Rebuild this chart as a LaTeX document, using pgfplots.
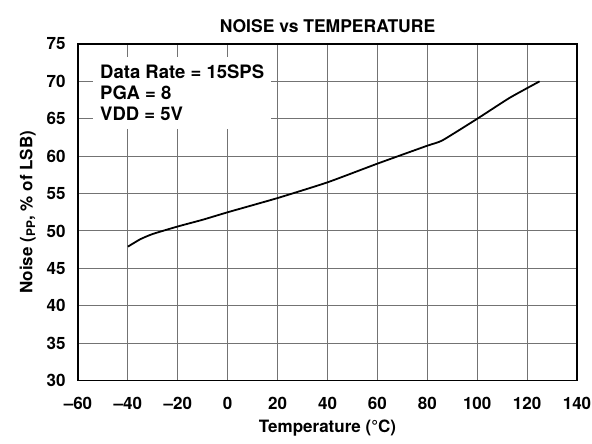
\documentclass[border=0pt]{standalone}
\usepackage{fontspec}
\setmainfont{TeX Gyre Heros}
\usepackage{pgfplots}
\pgfplotsset{compat=1.18}
\begin{document}
\begin{tikzpicture}
\begin{axis}[
  scale only axis,
  width=499bp, height=336.5bp,
  xmin=-60, xmax=140, ymin=30, ymax=75,
  xtick={-60,-40,...,140},
  ytick={30,35,...,75},
  xticklabels={\textendash60,\textendash40,\textendash20,0,20,40,60,80,100,120,140},
  /pgf/number format/assume math mode=true,
  major tick length=0pt,
  grid=major,
  major grid style={line width=1pt, color=black!55},
  axis line style={line width=1.8pt, black},
  tick label style={font=\fontsize{17bp}{20bp}\selectfont\bfseries},
  yticklabel style={xshift=-9bp},
  xticklabel style={yshift=-13bp},
  label style={font=\fontsize{17bp}{20bp}\selectfont\bfseries},
  xlabel={Temperature (°C)},
  ylabel={Noise (\textsubscript{PP}, \% of LSB)},
  xlabel style={yshift=-4bp},
  ylabel style={yshift=4bp},
  title={NOISE vs TEMPERATURE},
  title style={font=\fontsize{17.5bp}{20bp}\selectfont\bfseries, yshift=2bp},
]
\addplot[line width=1.8pt, black, smooth, tension=0.3] coordinates {
(-40,47.9) (-35,48.9) (-30,49.6) (-20,50.6) (-10,51.5) (0,52.5) (20,54.4) (40,56.5) (60,59.0) (80,61.4) (86,62.1) (100,65.0) (113,67.8) (125,70)
};
\node[anchor=north west, fill=white, align=left, inner xsep=7bp, inner ysep=8bp,
  font=\fontsize{18.5bp}{21bp}\selectfont\bfseries] at (axis cs:-54,73.3)
  {Data Rate = 15SPS\\PGA = 8\\VDD = 5V};
\end{axis}
\pgfresetboundingbox
\path (current axis.south west) ++(-78bp,-63.5bp) rectangle ++(592bp,444bp);
\end{tikzpicture}
\end{document}
